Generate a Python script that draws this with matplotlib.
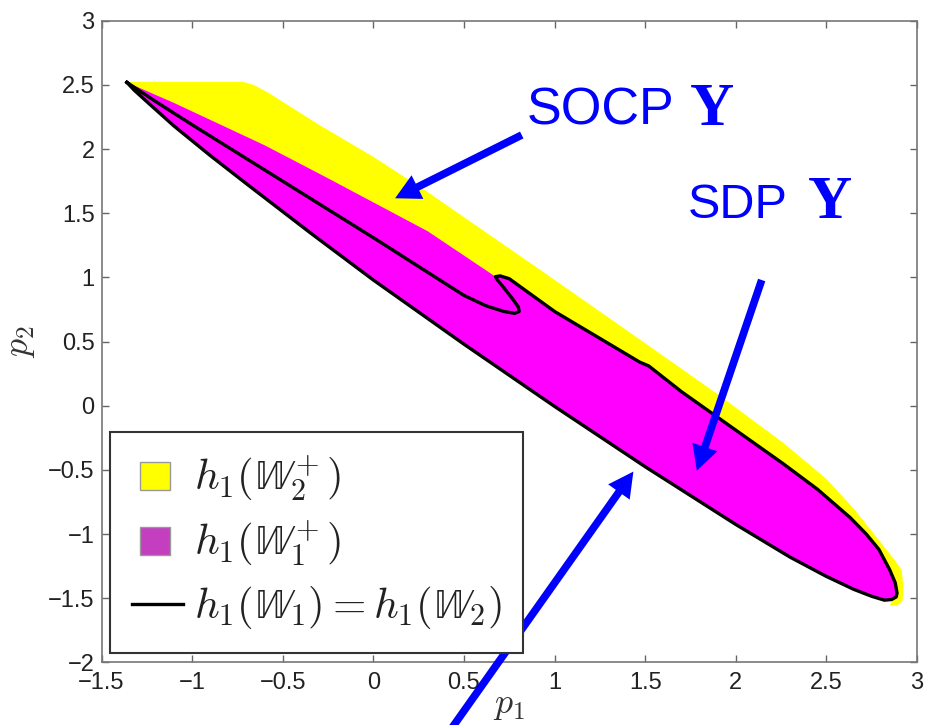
import matplotlib
matplotlib.use("Agg")
import matplotlib.pyplot as plt
from matplotlib.patches import Patch, Rectangle
from matplotlib.lines import Line2D
from matplotlib.legend_handler import HandlerPatch

plt.rcParams['mathtext.fontset'] = 'cm'
plt.rcParams['font.family'] = ['Liberation Sans', 'DejaVu Sans']

# ---------------- data ----------------
# lower boundary of the black closed curve (left tip -> right tip)
lower_p1 = [-1.36, -1.32, -1.25, -1.10, -0.90, -0.70, -0.35, 0.00, 0.50, 1.00, 1.50, 2.00, 2.30,
            2.50, 2.65, 2.75, 2.82, 2.86, 2.885, 2.89]
lower_p2 = [2.52, 2.46, 2.37, 2.18, 1.95, 1.73, 1.35, 0.98, 0.48, -0.005, -0.475, -0.925, -1.18,
            -1.33, -1.43, -1.485, -1.515, -1.51, -1.49, -1.46]

# inner branch of the black curve (left tip -> fold bottom -> fold top)
inner_p1 = [-1.36, -1.20, -1.00, -0.50, 0.00, 0.30, 0.50, 0.62, 0.72, 0.78, 0.805, 0.80, 0.77, 0.72,
            0.685, 0.674]
inner_p2 = [2.52, 2.37, 2.19, 1.75, 1.31, 1.04, 0.86, 0.78, 0.735, 0.72, 0.735, 0.77, 0.83, 0.92,
            0.98, 1.006]

# upper boundary of the black curve (fold top -> right tip)
upper_p1 = [0.674, 0.70, 0.75, 1.00, 1.25, 1.47, 1.52, 1.70, 1.90, 2.26, 2.45, 2.63, 2.72, 2.79,
            2.85, 2.88, 2.89]
upper_p2 = [1.006, 1.012, 0.99, 0.735, 0.525, 0.34, 0.31, 0.11, -0.09, -0.45, -0.65, -0.87, -1.00,
            -1.12, -1.28, -1.38, -1.46]

# magenta / yellow border (left tip -> fold top)
border_p1 = [-1.36, -1.10, -0.60, -0.26, 0.30, 0.674]
border_p2 = [2.52, 2.36, 2.03, 1.78, 1.36, 1.006]

# yellow region outer edge (left tip -> right bottom)
yel_p1 = [-1.36, -0.72, -0.66, -0.58, -0.30, 0.00, 0.30, 0.92, 1.527, 1.90, 2.263, 2.50, 2.65,
          2.78, 2.87, 2.916, 2.925, 2.92, 2.89, 2.85]
yel_p2 = [2.525, 2.525, 2.50, 2.44, 2.19, 1.94, 1.665, 1.06, 0.461, 0.09, -0.29, -0.57, -0.80,
          -1.03, -1.19, -1.28, -1.42, -1.52, -1.56, -1.55]

# arrows: (tail, head) in data coordinates
arrow_tails = [(0.819, 2.11), (2.143, 0.98), (0.434, -2.51)]
arrow_heads = [(0.12, 1.617), (1.785, -0.506), (1.435, -0.513)]

labels = [r'$h_1(\mathbb{W}_2^+)$', r'$h_1(\mathbb{W}_1^+)$', r'$h_1(\mathbb{W}_1) = h_1(\mathbb{W}_2)$']
xticks = [-1.5, -1, -0.5, 0, 0.5, 1, 1.5, 2, 2.5, 3]
yticks = [-2, -1.5, -1, -0.5, 0, 0.5, 1, 1.5, 2, 2.5, 3]
xticklabels = ['\u22121.5', '\u22121', '\u22120.5', '0', '0.5', '1', '1.5', '2', '2.5', '3']
yticklabels = ['\u22122', '\u22121.5', '\u22121', '\u22120.5', '0', '0.5', '1', '1.5', '2', '2.5', '3']

# ---------------- figure ----------------
fig = plt.figure(figsize=(9.25, 7.25), dpi=100)
ax = fig.add_axes([101.5 / 925, (725 - 662.4) / 725, 815.5 / 925, 641.6 / 725])

# yellow region (outer edge + back along lower boundary)
ax.fill(yel_p1 + lower_p1[::-1], yel_p2 + lower_p2[::-1], color='#FFFF00', lw=0, zorder=1)

# magenta region
ax.fill(border_p1 + upper_p1 + lower_p1[::-1], border_p2 + upper_p2 + lower_p2[::-1],
        color='#FF00FF', lw=0, zorder=2)

# black closed curve
cx = inner_p1 + upper_p1 + lower_p1[::-1]
cy = inner_p2 + upper_p2 + lower_p2[::-1]
ax.plot(cx, cy, color='black', lw=2.4, solid_joinstyle='round', zorder=3)

# arrows
for (tx, ty), (hx, hy) in zip(arrow_tails, arrow_heads):
    ax.annotate('', xy=(hx, hy), xytext=(tx, ty), xycoords='data', textcoords='data',
                annotation_clip=False,
                arrowprops=dict(facecolor='#0000FF', edgecolor='#0000FF', width=5.5,
                                headwidth=19, headlength=18, shrink=0, lw=0),
                zorder=6)

# annotation texts
ax.text(0.848, 2.19, 'SOCP', color='#0000FF', fontsize=37.5, ha='left', va='baseline',
        family=['Liberation Sans'], zorder=7)
ax.text(1.745, 2.19, 'Y', color='#0000FF', fontsize=44, ha='left', va='baseline',
        family=['Liberation Serif'], fontweight='bold', zorder=7)
ax.text(1.736, 1.464, 'SDP', color='#0000FF', fontsize=35, ha='left', va='baseline',
        family=['Liberation Sans'], zorder=7)
ax.text(2.40, 1.464, 'Y', color='#0000FF', fontsize=44, ha='left', va='baseline',
        family=['Liberation Serif'], fontweight='bold', zorder=7)

ax.set_xlim(-1.5, 3)
ax.set_ylim(-2, 3)
ax.set_xticks(xticks)
ax.set_yticks(yticks)
ax.set_xticklabels(xticklabels)
ax.set_yticklabels(yticklabels)
ax.tick_params(direction='in', length=5, width=1.0, color='#666666', labelsize=17,
               labelcolor='#222222', top=True, right=True, pad=5)
ax.tick_params(axis='x', pad=7)
for s in ax.spines.values():
    s.set_color('#777777')
    s.set_linewidth(1.2)

ax.set_xlabel(r'$p_1$', fontsize=26, color='#333333', labelpad=-5)
ax.set_ylabel(r'$p_2$', fontsize=26, color='#333333', labelpad=8)


def make_square(legend, orig_handle, xdescent, ydescent, width, height, fontsize):
    return Rectangle(xy=(-xdescent + 0.17 * width, -ydescent - 0.02 * height),
                     width=0.58 * width, height=1.0 * height)


handles = [Patch(facecolor='#FFFF00', edgecolor='#999999', lw=1.0),
           Patch(facecolor='#C43EC0', edgecolor='#999999', lw=1.0),
           Line2D([], [], color='black', lw=2.4)]
leg = ax.legend(handles, labels, loc='lower left', bbox_to_anchor=(0.0104, 0.0147),
                borderaxespad=0, fontsize=31, frameon=True, fancybox=False,
                framealpha=1, edgecolor='#333333', handlelength=1.2, handleheight=0.63,
                handletextpad=0.25, labelspacing=0.35, borderpad=0.5,
                handler_map={Patch: HandlerPatch(patch_func=make_square)})
leg.get_frame().set_linewidth(1.5)
leg.set_zorder(10)
for t in leg.get_texts():
    t.set_color('#222222')

fig.savefig('out.png', dpi=100)
